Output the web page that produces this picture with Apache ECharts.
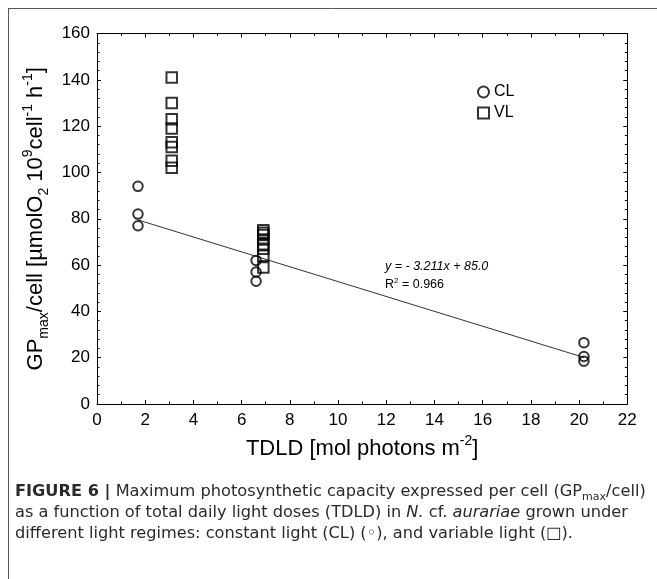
<!DOCTYPE html>
<html><head><meta charset="utf-8">
<script src="https://cdn.jsdelivr.net/npm/echarts@6/dist/echarts.min.js"></script>
<style>html,body{margin:0;padding:0;background:#fff}#c{width:657px;height:579px}</style>
</head><body><div id="c"></div><script>
// ---- data ----
const clX = [1.7, 1.7, 1.7, 6.6, 6.6, 6.6, 20.2, 20.2, 20.2];
const clY = [94, 82, 77, 62, 57, 53, 26.5, 20.5, 18.5];
const vlX = [3.1, 3.1, 3.1, 3.1, 3.1, 3.1, 3.1, 3.1, 6.9, 6.9, 6.9, 6.9, 6.9, 6.9, 6.9, 6.9];
const vlY = [141, 130, 123, 119, 113, 111, 105, 102, 75, 74, 73, 71, 69, 67, 64, 59];
const fitX = [1.7, 20.2];
const fitY = [79.5, 20.1];
const xTickLabels = ['0','2','4','6','8','10','12','14','16','18','20','22'];
const yTickLabels = ['0','20','40','60','80','100','120','140','160'];
const seriesNames = ['CL', 'VL'];
const equationText = 'y = - 3.211x + 85.0';
const r2Text = '0.966';

const FONT = "'Liberation Sans', Arial, Helvetica, sans-serif";
const CAPFONT = "'DejaVu Sans', sans-serif";
const pairs = (xs, ys) => xs.map((x, i) => [x, ys[i]]);

const axisCommon = (labelsShown, isX) => ({
  type: 'value',
  min: 0,
  max: isX ? 22 : 160,
  interval: isX ? 2 : 20,
  axisLine: { show: true, onZero: false, lineStyle: { color: '#000', width: 1 } },
  axisTick: { show: true, inside: true, length: 4, lineStyle: { color: '#000', width: 1 } },
  minorTick: { show: true, splitNumber: isX ? 2 : 5, length: 2.5, lineStyle: { color: '#000', width: 1 } },
  splitLine: { show: false },
  minorSplitLine: { show: false },
  axisLabel: {
    show: labelsShown, color: '#000', fontSize: 17, fontFamily: FONT, margin: isX ? 8 : 7,
    formatter: v => {
      const arr = isX ? xTickLabels : yTickLabels;
      const idx = Math.round(v / (isX ? 2 : 20));
      return arr[idx] !== undefined ? arr[idx] : '';
    }
  }
});

const titleRich = {
  n: { fontSize: 22, lineHeight: 30, verticalAlign: 'middle', fontFamily: FONT, color: '#000' },
  sup: { fontSize: 14, lineHeight: 14, verticalAlign: 'top', fontFamily: FONT, color: '#000' },
  sub: { fontSize: 14, lineHeight: 14, verticalAlign: 'bottom', fontFamily: FONT, color: '#000' }
};

const capRich = {
  n: { fontSize: 16.2, fontFamily: CAPFONT, fill: '#2a2a2a', lineHeight: 21 },
  b: { fontSize: 16.2, fontFamily: CAPFONT, fill: '#2a2a2a', fontWeight: 'bold', lineHeight: 21 },
  i: { fontSize: 16.2, fontFamily: CAPFONT, fill: '#2a2a2a', fontStyle: 'italic', lineHeight: 21 },
  s: { fontSize: 11, fontFamily: CAPFONT, fill: '#2a2a2a', lineHeight: 21, verticalAlign: 'bottom' }
};

const chart = echarts.init(document.getElementById('c'), null, { renderer: 'canvas' });
chart.setOption({
  backgroundColor: '#fff',
  animation: false,
  textStyle: { fontFamily: FONT },
  grid: { left: 97, top: 33.5, right: 29.7, bottom: 175, containLabel: false },
  xAxis: [
    Object.assign(axisCommon(true, true), {
      position: 'bottom',
      name: '{n|TDLD [mol photons m}{sup|-2}{n|]}',
      nameLocation: 'middle', nameGap: 27,
      nameTextStyle: { rich: titleRich }
    }),
    Object.assign(axisCommon(false, true), { position: 'top' })
  ],
  yAxis: [
    Object.assign(axisCommon(true, false), {
      position: 'left',
      name: '{n|GP}{sub|max}{n|/cell [µmolO}{sub|2}{n| 10}{sup|9}{n|cell}{sup|-1}{n| h}{sup|-1}{n|]}',
      nameLocation: 'middle', nameGap: 37,
      nameTextStyle: { rich: titleRich }
    }),
    Object.assign(axisCommon(false, false), { position: 'right' })
  ],
  legend: {
    orient: 'vertical', left: 472, top: 79, itemWidth: 11, itemHeight: 11, itemGap: 5,
    textStyle: { fontSize: 16, fontFamily: FONT, color: '#000' },
    data: [
      { name: seriesNames[0], icon: 'circle', itemStyle: { color: 'transparent', borderColor: '#000', borderWidth: 2 } },
      { name: seriesNames[1], icon: 'rect', itemStyle: { color: 'transparent', borderColor: '#000', borderWidth: 2 } }
    ]
  },
  series: [
    {
      type: 'line', name: 'fit', data: pairs(fitX, fitY), symbol: 'none', silent: true,
      lineStyle: { color: '#333', width: 1 }, z: 1
    },
    {
      type: 'scatter', name: seriesNames[0], data: pairs(clX, clY), symbol: 'circle', symbolSize: 9.5,
      itemStyle: { color: 'transparent', borderColor: '#000', borderWidth: 2 }, z: 3
    },
    {
      type: 'scatter', name: seriesNames[1], data: pairs(vlX, vlY), symbol: 'rect', symbolSize: 10.5,
      itemStyle: { color: 'transparent', borderColor: '#000', borderWidth: 2 }, z: 3
    }
  ],
  graphic: [
    { type: 'line', shape: { x1: 8, y1: 8.5, x2: 657, y2: 8.5 }, style: { stroke: '#555', lineWidth: 1 } },
    { type: 'line', shape: { x1: 8.5, y1: 8, x2: 8.5, y2: 579 }, style: { stroke: '#555', lineWidth: 1 } },
    { type: 'text', left: 385, top: 260, style: { text: equationText, font: "italic 12.5px 'Liberation Sans', Arial, sans-serif", fill: '#000' } },
    { type: 'text', left: 385, top: 277, style: {
        text: '{n|R}{s|2}{n| = ' + r2Text + '}',
        rich: {
          n: { fontSize: 12.5, fontFamily: FONT, fill: '#000', lineHeight: 14, verticalAlign: 'bottom' },
          s: { fontSize: 8, fontFamily: FONT, fill: '#000', lineHeight: 14, verticalAlign: 'top' }
        } } },
    { type: 'text', left: 15, top: 484, style: {
        text: '{b|FIGURE 6 |}{n| Maximum photosynthetic capacity expressed per cell (GP}{s|max}{n|/cell)}', rich: capRich } },
    { type: 'text', left: 15, top: 505, style: {
        text: '{n|as a function of total daily light doses (TDLD) in }{i|N.}{n| cf. }{i|aurariae}{n| grown under}', rich: capRich } },
    { type: 'text', left: 15, top: 526, style: {
        text: '{n|different light regimes: constant light (CL) (◦), and variable light (□).}', rich: capRich } }
  ]
});
</script></body></html>
